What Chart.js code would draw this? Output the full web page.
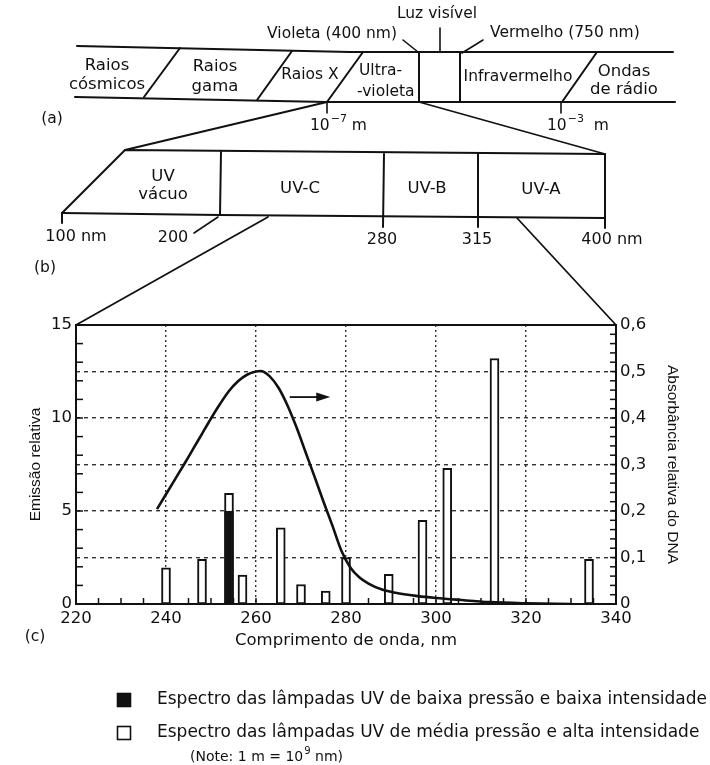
<!DOCTYPE html>
<html>
<head>
<meta charset="utf-8">
<script src="https://cdn.jsdelivr.net/npm/chart.js@4.4.1/dist/chart.umd.min.js"></script>
<style>
  html, body { margin: 0; padding: 0; background: #fff; }
  canvas { display: block; }
</style>
</head>
<body>
<canvas id="uvChart" width="710" height="765"></canvas>
<script>
// Linhas de emissão das lâmpadas (nm) e emissão relativa
const lampWavelengths = [240, 248, 254, 257, 265.5, 270, 275.5, 280, 289.5, 297, 302.5, 313, 334];
const mediumPressureEmission = [1.95, 2.4, 5.95, 1.55, 4.1, 1.05, 0.7, 2.5, 1.6, 4.5, 7.3, 13.2, 2.4];
const lowPressureWavelengths = [254];
const lowPressureEmission = [5.0];

// Absorbância relativa do DNA (eixo da direita)
const dnaWavelengths = [238, 240, 242, 244, 246, 248, 250, 252, 254, 256, 258, 260, 261, 263, 265, 267, 269, 271, 273, 275, 277, 279, 281, 283, 285, 288, 291, 296, 300, 305, 312, 320, 330];
const dnaAbsorbance = [0.204, 0.236, 0.268, 0.3, 0.333, 0.366, 0.399, 0.43, 0.458, 0.479, 0.493, 0.5, 0.501, 0.49, 0.465, 0.427, 0.38, 0.327, 0.274, 0.22, 0.168, 0.114, 0.078, 0.057, 0.044, 0.031, 0.024, 0.017, 0.013, 0.009, 0.004, 0.0015, 0];

const wavelengthTickLabels = ['220', '240', '260', '280', '300', '320', '340'];
const emissionTickLabels = ['0', '5', '10', '15'];
const absorbanceTickLabels = ['0', '0,1', '0,2', '0,3', '0,4', '0,5', '0,6'];

// seta que indica o eixo da curva
const arrowSpan = [267.5, 276.5];
const arrowLevel = 0.445;

const ink = '#111111';
const gridInk = '#333333';
const sans = '"DejaVu Sans", sans-serif';

Chart.defaults.font.family = sans;
Chart.defaults.color = ink;

function path(ctx, pts) {
  ctx.beginPath();
  ctx.moveTo(pts[0][0], pts[0][1]);
  for (let i = 1; i < pts.length; i++) ctx.lineTo(pts[i][0], pts[i][1]);
  ctx.stroke();
}

function label(ctx, str, x, y, size, align) {
  ctx.font = size + 'px ' + sans;
  ctx.textAlign = align || 'center';
  ctx.textBaseline = 'middle';
  ctx.fillText(str, x, y);
}

// texto com expoente, ex.: 10⁻⁷ m
function powerLabel(ctx, x, y, base, exp, tail, size) {
  ctx.textAlign = 'left';
  ctx.textBaseline = 'middle';
  ctx.font = size + 'px ' + sans;
  ctx.fillText(base, x, y);
  x += ctx.measureText(base).width + 1;
  ctx.font = Math.round(size * 0.7) + 'px ' + sans;
  ctx.fillText(exp, x, y - size * 0.42);
  x += ctx.measureText(exp).width;
  ctx.font = size + 'px ' + sans;
  ctx.fillText(tail, x, y);
}

function drawBands(ctx, area) {
  ctx.save();
  ctx.strokeStyle = ink;
  ctx.fillStyle = ink;
  ctx.lineCap = 'round';
  ctx.lineJoin = 'round';

  // (a) espectro eletromagnético
  ctx.lineWidth = 2;
  path(ctx, [[77, 46], [350, 52], [673, 52]]);
  path(ctx, [[75, 97], [327, 102], [675, 102]]);
  [
    [[144, 97], [180, 48]],
    [[257, 100], [292, 51]],
    [[327, 102], [363, 52]],
    [[419, 52], [419, 102]],
    [[460, 52], [460, 102]],
    [[562, 102], [597, 52]]
  ].forEach(s => path(ctx, s));
  ctx.lineWidth = 1.6;
  path(ctx, [[327, 102], [327, 113]]);
  path(ctx, [[561, 102], [561, 113]]);
  path(ctx, [[440, 28], [440, 52]]);
  path(ctx, [[403, 40], [418, 52]]);
  path(ctx, [[483, 40], [462, 53]]);

  label(ctx, 'Raios', 107, 66, 16.5);
  label(ctx, 'cósmicos', 107, 85, 16.5);
  label(ctx, 'Raios', 215, 67, 16.5);
  label(ctx, 'gama', 215, 87, 16.5);
  label(ctx, 'Raios X', 310, 75, 15.5);
  label(ctx, 'Ultra-', 359, 71, 15.5, 'left');
  label(ctx, '-violeta', 357, 92, 15.5, 'left');
  label(ctx, 'Infravermelho', 518, 77, 15.5);
  label(ctx, 'Ondas', 624, 72, 16.5);
  label(ctx, 'de rádio', 624, 90, 16.5);
  label(ctx, 'Luz visível', 437, 14, 15.5);
  label(ctx, 'Violeta (400 nm)', 397, 34, 15.5, 'right');
  label(ctx, 'Vermelho (750 nm)', 490, 33, 15.5, 'left');
  powerLabel(ctx, 310, 126, '10', '−7', ' m', 15.5);
  powerLabel(ctx, 547, 126, '10', '−3', '  m', 15.5);
  label(ctx, '(a)', 52, 119, 15.5);

  // ligação (a) -> (b)
  ctx.lineWidth = 1.8;
  path(ctx, [[327, 102], [125, 150]]);
  path(ctx, [[419, 102], [605, 154]]);

  // (b) faixas do ultravioleta
  ctx.lineWidth = 2;
  path(ctx, [[62, 213], [125, 150], [605, 154], [605, 228]]);
  path(ctx, [[62, 213], [220, 215], [605, 218]]);
  path(ctx, [[221, 152], [220, 215]]);
  path(ctx, [[384, 154], [383, 227]]);
  path(ctx, [[478, 154], [478, 227]]);
  path(ctx, [[62, 213], [62, 223]]);
  ctx.lineWidth = 1.6;
  path(ctx, [[194, 233], [218, 217]]);

  label(ctx, 'UV', 163, 177, 16.5);
  label(ctx, 'vácuo', 163, 195, 16.5);
  label(ctx, 'UV-C', 300, 189, 16.5);
  label(ctx, 'UV-B', 427, 189, 16.5);
  label(ctx, 'UV-A', 541, 190, 16.5);
  label(ctx, '100 nm', 76, 237, 16);
  label(ctx, '200', 173, 238, 16);
  label(ctx, '280', 382, 240, 16);
  label(ctx, '315', 477, 240, 16);
  label(ctx, '400 nm', 612, 240, 16);
  label(ctx, '(b)', 45, 268, 15.5);

  // ligação (b) -> (c)
  ctx.lineWidth = 1.8;
  path(ctx, [[268, 217], [area.left, area.top]]);
  path(ctx, [[517, 218], [area.right, area.top]]);

  label(ctx, '(c)', 35, 637, 15.5);
  ctx.restore();
}

function drawKey(chart) {
  const ctx = chart.ctx;
  const sets = chart.data.datasets;
  const keys = [sets[1], sets[2]];
  ctx.save();
  keys.forEach((ds, i) => {
    const y = 693 + i * 33;
    ctx.fillStyle = ds.backgroundColor;
    ctx.fillRect(117, y, 14, 14);
    ctx.strokeStyle = ink;
    ctx.lineWidth = 1.6;
    ctx.strokeRect(117.5, y + 0.5, 13, 13);
    ctx.fillStyle = ink;
    label(ctx, ds.label, 157, y + 7, 17, 'left');
  });
  ctx.fillStyle = ink;
  powerLabel(ctx, 190, 757, '(Note: 1 m = 10', '9', ' nm)', 14);
  ctx.restore();
}

const figurePlugin = {
  id: 'figure',
  beforeDraw(chart) {
    const ctx = chart.ctx;
    ctx.save();
    ctx.fillStyle = '#fff';
    ctx.fillRect(0, 0, chart.width, chart.height);
    ctx.restore();
  },
  beforeDatasetsDraw(chart) {
    // marcas de escala voltadas para dentro
    const {ctx, chartArea: a, scales: {x, y, y1}} = chart;
    ctx.save();
    ctx.strokeStyle = ink;
    ctx.lineWidth = 1.5;
    for (let v = 0; v <= 15; v++) {
      const py = y.getPixelForValue(v);
      path(ctx, [[a.left, py], [a.left + 7, py]]);
    }
    for (let i = 0; i <= 30; i++) {
      const py = y1.getPixelForValue(i * 0.02);
      path(ctx, [[a.right - 6, py], [a.right, py]]);
    }
    for (let nm = 220; nm <= 340; nm += 5) {
      const px = x.getPixelForValue(nm);
      path(ctx, [[px, a.bottom], [px, a.bottom - 6]]);
    }
    ctx.restore();
  },
  afterDatasetsDraw(chart) {
    const {ctx, chartArea: a, scales: {x, y1}} = chart;
    ctx.save();
    ctx.strokeStyle = ink;
    ctx.fillStyle = ink;
    ctx.lineWidth = 2;
    ctx.strokeRect(a.left, a.top, a.right - a.left, a.bottom - a.top);

    const x0 = x.getPixelForValue(arrowSpan[0]);
    const x1 = x.getPixelForValue(arrowSpan[1]);
    const ay = y1.getPixelForValue(arrowLevel);
    ctx.lineWidth = 1.8;
    path(ctx, [[x0, ay], [x1 - 10, ay]]);
    ctx.beginPath();
    ctx.moveTo(x1, ay);
    ctx.lineTo(x1 - 14, ay - 4.5);
    ctx.lineTo(x1 - 14, ay + 4.5);
    ctx.closePath();
    ctx.fill();
    ctx.restore();
  },
  afterDraw(chart) {
    drawBands(chart.ctx, chart.chartArea);
    drawKey(chart);
  }
};

new Chart(document.getElementById('uvChart'), {
  type: 'bar',
  data: {
    datasets: [
      {
        type: 'line',
        label: 'Absorbância relativa do DNA',
        data: dnaWavelengths.map((w, i) => ({x: w, y: dnaAbsorbance[i]})),
        yAxisID: 'y1',
        borderColor: ink,
        borderWidth: 2.6,
        pointRadius: 0,
        fill: false,
        cubicInterpolationMode: 'monotone',
        order: 0
      },
      {
        label: 'Espectro das lâmpadas UV de baixa pressão e baixa intensidade',
        data: lowPressureWavelengths.map((w, i) => ({x: w, y: lowPressureEmission[i]})),
        yAxisID: 'y',
        backgroundColor: ink,
        borderColor: ink,
        borderWidth: 2,
        order: 1
      },
      {
        label: 'Espectro das lâmpadas UV de média pressão e alta intensidade',
        data: lampWavelengths.map((w, i) => ({x: w, y: mediumPressureEmission[i]})),
        yAxisID: 'y',
        backgroundColor: '#ffffff',
        borderColor: ink,
        borderWidth: 2,
        order: 2
      }
    ]
  },
  options: {
    responsive: false,
    animation: false,
    devicePixelRatio: 1,
    events: [],
    datasets: {
      bar: { grouped: false, barThickness: 9, borderSkipped: false }
    },
    layout: { padding: { top: 325, bottom: 105, left: 0, right: 0 } },
    plugins: {
      legend: { display: false },
      tooltip: { enabled: false }
    },
    scales: {
      x: {
        type: 'linear',
        min: 220,
        max: 340,
        offset: false,
        grid: {
          offset: false,
          drawTicks: false,
          lineWidth: 1.4,
          color: c => (c.tick && c.tick.value > 220 && c.tick.value < 340) ? gridInk : 'transparent'
        },
        border: { display: false, dash: [2, 3] },
        ticks: {
          stepSize: 20,
          padding: 5,
          maxRotation: 0,
          autoSkip: false,
          color: ink,
          font: { size: 16.5 },
          callback: v => wavelengthTickLabels[Math.round((v - 220) / 20)]
        },
        title: {
          display: true,
          text: 'Comprimento de onda, nm',
          color: ink,
          font: { size: 16.5 },
          padding: { top: 0, bottom: 9 }
        },
        afterFit: s => { s.height = 56; }
      },
      y: {
        position: 'left',
        min: 0,
        max: 15,
        grid: { display: false, drawTicks: false },
        border: { display: false },
        ticks: {
          stepSize: 5,
          padding: 4,
          color: ink,
          font: { size: 16.5 },
          callback: v => emissionTickLabels[Math.round(v / 5)]
        },
        title: {
          display: true,
          text: 'Emissão relativa',
          color: ink,
          font: { family: '"Liberation Sans", Arial, sans-serif', size: 15.5 },
          padding: { top: 26, bottom: 0 }
        },
        afterFit: s => { s.width = 76; }
      },
      y1: {
        position: 'right',
        min: 0,
        max: 0.6,
        grid: {
          drawTicks: false,
          lineWidth: 1.4,
          color: c => (c.tick && c.tick.value > 0.001 && c.tick.value < 0.599) ? gridInk : 'transparent'
        },
        border: { display: false, dash: [4, 4] },
        ticks: {
          stepSize: 0.1,
          padding: 4,
          color: ink,
          font: { size: 16.5 },
          callback: v => absorbanceTickLabels[Math.round(v / 0.1)]
        },
        title: {
          display: true,
          text: 'Absorbância relativa do DNA',
          color: ink,
          font: { family: '"Liberation Sans", Arial, sans-serif', size: 15.5 },
          padding: { top: 28, bottom: 0 }
        },
        afterFit: s => { s.width = 94; }
      }
    }
  },
  plugins: [figurePlugin]
});
</script>
</body>
</html>
